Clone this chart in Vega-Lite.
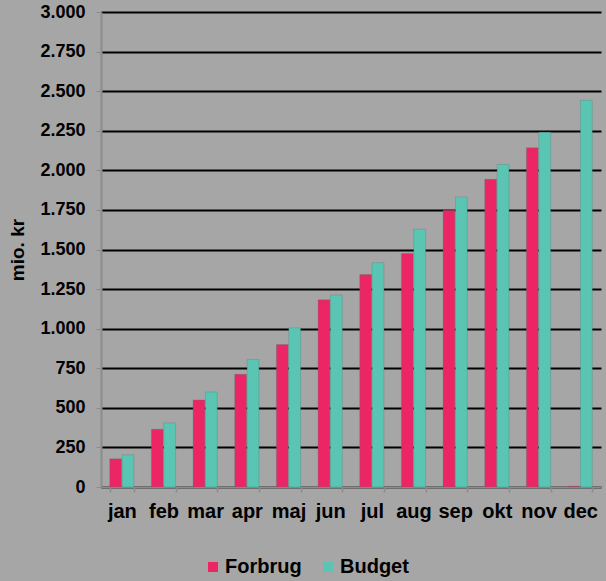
{
  "$schema": "https://vega.github.io/schema/vega-lite/v6.json",
  "width": 500,
  "height": 475,
  "autosize": "none",
  "padding": {"left": 101, "top": 12, "right": 5, "bottom": 94},
  "background": "#a6a6a6",
  "config": {
    "view": {"stroke": null},
    "font": "Liberation Sans"
  },
  "data": {
    "values": [
      {"month": "jan", "series": "Forbrug", "value": 178},
      {"month": "jan", "series": "Budget", "value": 203},
      {"month": "feb", "series": "Forbrug", "value": 365},
      {"month": "feb", "series": "Budget", "value": 405},
      {"month": "mar", "series": "Forbrug", "value": 550},
      {"month": "mar", "series": "Budget", "value": 600},
      {"month": "apr", "series": "Forbrug", "value": 712},
      {"month": "apr", "series": "Budget", "value": 805},
      {"month": "maj", "series": "Forbrug", "value": 900},
      {"month": "maj", "series": "Budget", "value": 1005},
      {"month": "jun", "series": "Forbrug", "value": 1182},
      {"month": "jun", "series": "Budget", "value": 1213},
      {"month": "jul", "series": "Forbrug", "value": 1342},
      {"month": "jul", "series": "Budget", "value": 1417},
      {"month": "aug", "series": "Forbrug", "value": 1474},
      {"month": "aug", "series": "Budget", "value": 1628},
      {"month": "sep", "series": "Forbrug", "value": 1748},
      {"month": "sep", "series": "Budget", "value": 1832},
      {"month": "okt", "series": "Forbrug", "value": 1943},
      {"month": "okt", "series": "Budget", "value": 2037},
      {"month": "nov", "series": "Forbrug", "value": 2142},
      {"month": "nov", "series": "Budget", "value": 2240},
      {"month": "dec", "series": "Forbrug", "value": 5},
      {"month": "dec", "series": "Budget", "value": 2442}
    ]
  },
  "mark": {"type": "bar", "stroke": "#3f7f74", "strokeWidth": 0.5, "strokeOpacity": 0.6},
  "encoding": {
    "x": {
      "field": "month",
      "type": "nominal",
      "sort": ["jan", "feb", "mar", "apr", "maj", "jun", "jul", "aug", "sep", "okt", "nov", "dec"],
      "scale": {"paddingInner": 0.42, "paddingOuter": 0.21},
      "axis": {
        "title": null,
        "labelAngle": 0,
        "labelFont": "Liberation Sans",
        "labelFontWeight": "bold",
        "labelFontSize": 20,
        "labelColor": "#000000",
        "labelPadding": 9,
        "domainColor": "#8c8c8c",
        "domainWidth": 2,
        "tickColor": "#8c8c8c",
        "tickBand": "extent",
        "tickSize": 5,
        "tickWidth": 1.5
      }
    },
    "xOffset": {
      "field": "series",
      "type": "nominal",
      "sort": ["Forbrug", "Budget"],
      "scale": {"paddingInner": 0.05}
    },
    "y": {
      "field": "value",
      "type": "quantitative",
      "scale": {"domain": [0, 3000], "nice": false},
      "axis": {
        "title": "mio. kr",
        "titleFont": "Liberation Sans",
        "titleFontWeight": "bold",
        "titleFontSize": 19,
        "titleColor": "#000000",
        "titlePadding": 12,
        "values": [0, 250, 500, 750, 1000, 1250, 1500, 1750, 2000, 2250, 2500, 2750, 3000],
        "labelExpr": "replace(format(datum.value, ',d'), ',', '.')",
        "labelFont": "Liberation Sans",
        "labelFontWeight": "bold",
        "labelFontSize": 18,
        "labelColor": "#000000",
        "labelPadding": 11,
        "domainColor": "#8c8c8c",
        "domainWidth": 2,
        "tickColor": "#8c8c8c",
        "tickSize": 5,
        "grid": true,
        "gridColor": "#000000",
        "gridWidth": 2
      }
    },
    "color": {
      "field": "series",
      "type": "nominal",
      "sort": ["Forbrug", "Budget"],
      "scale": {"domain": ["Forbrug", "Budget"], "range": ["#ec2565", "#5bc5b3"]},
      "legend": {
        "title": null,
        "orient": "none",
        "direction": "horizontal",
        "legendX": 102,
        "legendY": 545,
        "symbolType": "square",
        "symbolSize": 100,
        "symbolStrokeWidth": 0,
        "labelFont": "Liberation Sans",
        "labelFontWeight": "bold",
        "labelFontSize": 20,
        "labelColor": "#000000",
        "labelOffset": 2,
        "columnPadding": 16
      }
    }
  }
}
